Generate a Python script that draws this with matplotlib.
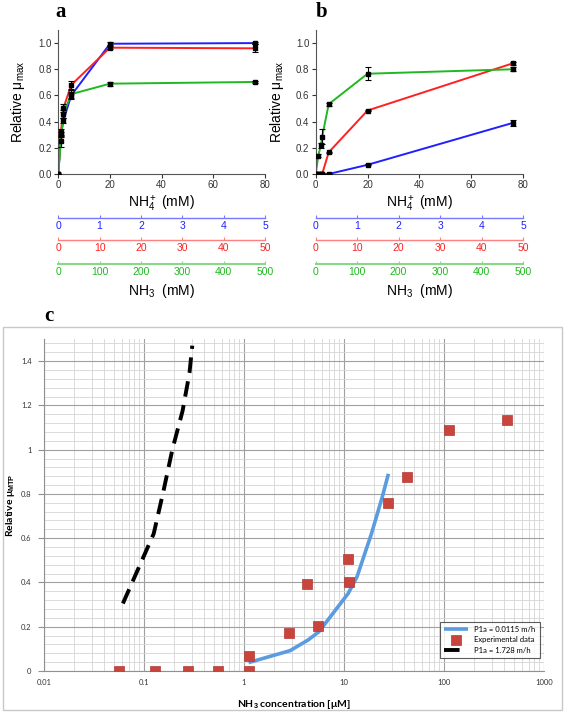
import matplotlib
matplotlib.use("Agg")
import matplotlib.pyplot as plt
from matplotlib.patches import Rectangle
from matplotlib.ticker import FixedLocator, NullFormatter, MultipleLocator

plt.rcParams["font.family"] = ["Liberation Sans", "DejaVu Sans"]
plt.rcParams["mathtext.fontset"] = "custom"
plt.rcParams["mathtext.rm"] = "Liberation Sans"
plt.rcParams["mathtext.it"] = "Liberation Sans:italic"
plt.rcParams["mathtext.bf"] = "Liberation Sans:bold"

# panel a: growth vs NH4+ (mM)
a_x = [0, 1, 2, 5, 20, 76]
a_blue = [0, 0.30, 0.41, 0.60, 0.995, 1.0]
a_blue_err = [0, 0.02, 0.02, 0.03, 0.01, 0.01]
a_red = [0, 0.32, 0.505, 0.68, 0.965, 0.96]
a_red_err = [0, 0.02, 0.03, 0.03, 0.01, 0.03]
a_green = [0, 0.25, 0.46, 0.61, 0.69, 0.703]
a_green_err = [0, 0.04, 0.03, 0.03, 0.015, 0.005]

# panel b
b_x = [0, 1, 2, 2.5, 5, 20, 76]
b_green = [0, 0.14, 0.22, 0.285, 0.533, 0.766, 0.80]
b_green_err = [0, 0.01, 0.02, 0.055, 0.012, 0.05, 0.015]
b_red = [0, 0, 0, 0, 0.165, 0.485, 0.845]
b_red_err = [0, 0, 0, 0, 0.005, 0.006, 0.012]
b_blue = [0, 0, 0, 0, 0, 0.07, 0.39]
b_blue_err = [0, 0, 0, 0, 0, 0.005, 0.02]

# secondary NH3 scales
nh3_blue_ticks = [0, 1, 2, 3, 4, 5]
nh3_red_ticks = [0, 10, 20, 30, 40, 50]
nh3_green_ticks = [0, 100, 200, 300, 400, 500]

# panel c: NH3 concentration (uM) vs relative mu
exp_x = [0.056, 0.129, 0.278, 0.555, 1.11, 1.11, 2.79, 4.24, 5.52, 11.0, 11.1, 27.8, 42.2, 111, 428]
exp_y = [0, 0, 0, 0, 0, 0.07, 0.17, 0.395, 0.203, 0.504, 0.40, 0.759, 0.876, 1.09, 1.136]
fit_slow_x = [1.11, 2.89, 4.37, 5.6, 11.0, 13.5, 18.8, 24.1, 27.8]
fit_slow_y = [0.038, 0.092, 0.14, 0.177, 0.35, 0.426, 0.62, 0.785, 0.891]
fit_fast_x = [0.0615, 0.125, 0.156, 0.192, 0.243, 0.285, 0.304]
fit_fast_y = [0.305, 0.62, 0.81, 1.0, 1.175, 1.347, 1.47]

BLUE = "#2020ff"
RED = "#ff2020"
GREEN = "#20b820"

W, H = 567, 713
fig = plt.figure(figsize=(W / 100, H / 100), dpi=100)


def fbox(x0, y0, x1, y1):
    # pixel box (top-left origin) -> figure fraction rect
    return [x0 / W, 1 - y1 / H, (x1 - x0) / W, (y1 - y0) / H]


def growth_panel(left, right, x, series, letter, lx, ylab_x):
    ax = fig.add_axes(fbox(left, 30, right, 174))
    for y, err, col in series:
        ax.plot(x, y, color=col, lw=1.4, zorder=2)
        ax.errorbar(x, y, yerr=err, fmt="s", color="black", ms=2.2,
                    elinewidth=0.8, capsize=2, capthick=0.8, zorder=3)
    ax.set_xlim(0, 80)
    ax.set_ylim(0, 1.1)
    ax.set_xticks([0, 20, 40, 60, 80])
    ax.set_yticks([0, 0.2, 0.4, 0.6, 0.8, 1.0])
    ax.yaxis.set_major_formatter(lambda v, p: f"{v:.1f}")
    for s in ("top", "right"):
        ax.spines[s].set_visible(False)
    for s in ("left", "bottom"):
        ax.spines[s].set_color("#555555")
        ax.spines[s].set_linewidth(0.8)
    ax.tick_params(labelsize=7, colors="#333333", length=3, width=0.8, pad=1.5)
    ax.set_xlabel(r"NH$_4^+$ (mM)", fontsize=10, labelpad=3)
    ax.set_ylabel(r"Relative μ$_{\rm max}$", fontsize=10)
    ax.yaxis.set_label_coords((ylab_x - left) / (right - left), 0.5)
    fig.text(lx / W, 1 - 12 / H, letter, fontsize=15, fontweight="bold",
             family=["Liberation Serif", "DejaVu Serif"], va="center")

    scales = [(218, nh3_blue_ticks, BLUE, "#7878ff"),
              (240, nh3_red_ticks, RED, "#ff8080"),
              (264, nh3_green_ticks, GREEN, "#88d888")]
    for ypix, ticks, tcol, lcol in scales:
        sx = fig.add_axes(fbox(left, ypix - 1, right, ypix))
        sx.set_xlim(ticks[0], ticks[-1])
        sx.set_ylim(0, 1)
        sx.set_yticks([])
        for s in ("top", "right", "left"):
            sx.spines[s].set_visible(False)
        sx.spines["bottom"].set_color(lcol)
        sx.spines["bottom"].set_linewidth(1.5 if tcol == GREEN else 1.0)
        sx.set_xticks(ticks)
        sx.tick_params(axis="x", direction="in", length=2.5, width=0.8,
                       color=lcol, labelcolor=tcol, labelsize=7.5, pad=2.5)
        sx.patch.set_visible(False)
    fig.text((left + right) / 2 / W, 1 - 291 / H, r"NH$_3$  (mM)",
             fontsize=10, ha="center", va="center")
    return ax


growth_panel(58.3, 265, a_x,
             [(a_blue, a_blue_err, BLUE), (a_red, a_red_err, RED), (a_green, a_green_err, GREEN)],
             "a", 55, 27)
growth_panel(315.7, 523, b_x,
             [(b_blue, b_blue_err, BLUE), (b_red, b_red_err, RED), (b_green, b_green_err, GREEN)],
             "b", 316, 286)

# panel c
fig.patches.append(Rectangle((3 / W, 1 - 710 / H), 559 / W, 383 / H,
                             transform=fig.transFigure, fill=False,
                             edgecolor="#c8c8c8", lw=1.0))
fig.text(44 / W, 1 - 316 / H, "c", fontsize=15, fontweight="bold",
         family=["Liberation Serif", "DejaVu Serif"], va="center")

cfont = ["Lato", "DejaVu Sans"]
ax = fig.add_axes(fbox(44, 339, 544, 671))
ax.set_xscale("log")
ax.set_xlim(0.01, 1000)
ax.set_ylim(0, 1.5)
ax.xaxis.set_major_locator(FixedLocator([0.01, 0.1, 1, 10, 100, 1000]))
ax.xaxis.set_minor_locator(FixedLocator(
    [m * 10.0 ** e for e in range(-2, 3) for m in range(2, 10)]))
ax.xaxis.set_minor_formatter(NullFormatter())
ax.set_xticklabels(["0.01", "0.1", "1", "10", "100", "1000"])
ax.yaxis.set_major_locator(FixedLocator([0, 0.2, 0.4, 0.6, 0.8, 1.0, 1.2, 1.4]))
ax.yaxis.set_minor_locator(MultipleLocator(0.04))
ax.set_yticklabels(["0", "0.2", "0.4", "0.6", "0.8", "1", "1.2", "1.4"])
ax.grid(which="major", color="#a0a0a0", lw=0.8)
ax.grid(which="minor", color="#d4d4d4", lw=0.6)
ax.set_axisbelow(True)
for s in ("top", "right"):
    ax.spines[s].set_visible(False)
for s in ("left", "bottom"):
    ax.spines[s].set_color("#909090")
    ax.spines[s].set_linewidth(0.8)
ax.tick_params(which="major", labelsize=5.5, colors="#909090", labelcolor="#333333",
               length=4, width=0.8, pad=5)
ax.tick_params(which="minor", length=0)
ax.tick_params(axis="x", which="major", length=0, pad=6)
for t in ax.get_xticklabels() + ax.get_yticklabels():
    t.set_family(cfont)

ax.plot(fit_slow_x, fit_slow_y, color="#5b9be0", lw=2.6, solid_capstyle="butt",
        label="P1a = 0.0115 m/h", zorder=3)
ax.plot(exp_x, exp_y, ls="none", marker="s", ms=7, color="#c8443c",
        markeredgecolor="#b03a34", markeredgewidth=0.5, label="Experimental data", zorder=4)
ax.plot(fit_fast_x, fit_fast_y, color="black", lw=2.8, ls=(0, (4, 2.2)),
        label="P1a = 1.728 m/h", zorder=3)

leg = ax.legend(loc="lower right", bbox_to_anchor=(0.991, 0.04), borderaxespad=0,
                frameon=True, fancybox=False, handlelength=3.2,
                borderpad=0.5, labelspacing=0.45, prop={"family": cfont, "size": 5.5})
leg.get_frame().set_edgecolor("#333333")
leg.get_frame().set_linewidth(0.8)

ax.set_xlabel(r"NH$_\mathbf{3}$ concentration [μM]", fontsize=7.5, fontweight="bold",
              family=cfont)
ax.xaxis.set_label_coords(0.5, -(698 - 671) / 332)
ax.set_ylabel(r"Relative μ$_{\mathbf{MTP}}$", fontsize=7.5, fontweight="bold",
              family=cfont)
ax.yaxis.set_label_coords(-(44 - 17) / 500, 0.5)

fig.savefig("out.png", dpi=100)
